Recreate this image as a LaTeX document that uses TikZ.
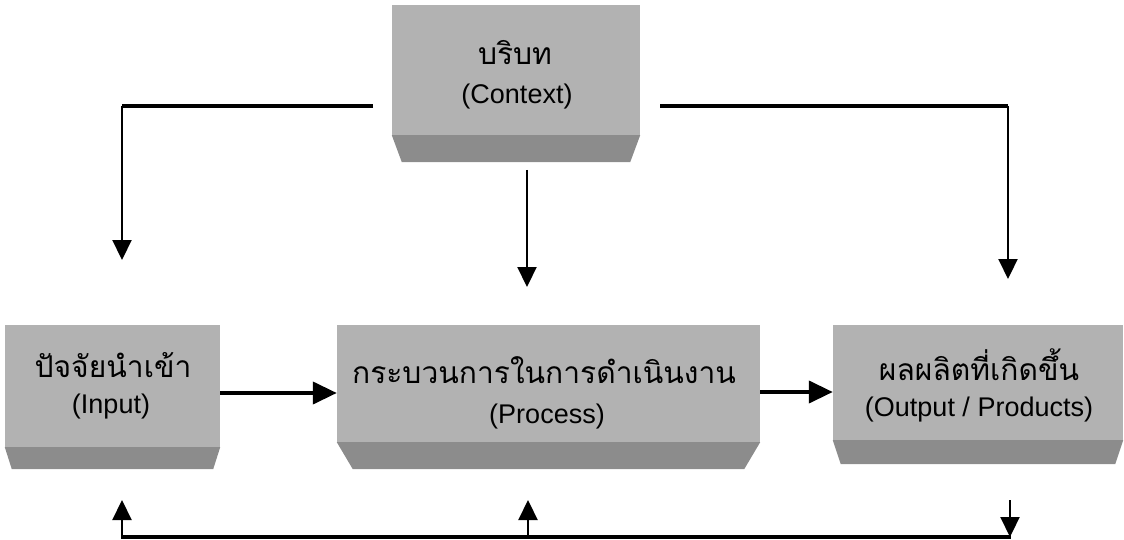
\documentclass[tikz,border=0pt]{standalone}
\usepackage{fontspec}
\newfontfamily\thaifont[Script=Thai]{Loma}
\newfontfamily\latfont{Liberation Sans}
\usetikzlibrary{arrows.meta}
\definecolor{facecol}{gray}{0.70}
\definecolor{stripcol}{gray}{0.55}
\newcommand{\bevelstrip}[3]{% node, inset, height
  \fill[stripcol] (#1.south west) -- (#1.south east) -- ([xshift=-#2pt,yshift=-#3pt]#1.south east) -- ([xshift=#2pt,yshift=-#3pt]#1.south west) -- cycle;}
\tikzset{
  face/.style={fill=facecol, draw=none, inner sep=0pt},
  thtext/.style={font=\thaifont\fontsize{30}{34}\selectfont, inner sep=0pt},
  entext/.style={font=\latfont\fontsize{27}{31}\selectfont, inner sep=0pt},
  mainarrow/.style={line width=4pt, -{Triangle[length=24pt,width=22pt]}},
  thinarrow/.style={line width=2.2pt, -{Triangle[length=20pt,width=19pt]}},
  thickline/.style={line width=3.5pt},
}
\begin{document}
\begin{tikzpicture}[x=1pt,y=-1pt]
\useasboundingbox (0,0) rectangle (1124,540);
% boxes (top faces)
\node[face, minimum width=248pt, minimum height=130pt] (ctx) at (516,70) {};
\node[face, minimum width=215pt, minimum height=122pt] (inp) at (112.5,386) {};
\node[face, minimum width=423pt, minimum height=117pt] (proc) at (548.5,383.5) {};
\node[face, minimum width=290pt, minimum height=115pt] (outp) at (978,382.5) {};
% bevel strips
\bevelstrip{ctx}{10}{27}
\bevelstrip{inp}{7}{22}
\bevelstrip{proc}{16}{27}
\bevelstrip{outp}{8}{24}
% texts
\node[thtext] (ctxTh) at (515,53) {บริบท};
\node[entext] (ctxEn) at (517,97) {(Context)};
\node[thtext] (inpTh) at (113,365) {ปัจจัยนำเข้า};
\node[entext] (inpEn) at (111,407) {(Input)};
\node[thtext] (procTh) at (544,370) {กระบวนการในการดำเนินงาน};
\node[entext] (procEn) at (547,417) {(Process)};
\node[thtext] (outpTh) at (979,365) {ผลผลิตที่เกิดขึ้น};
\node[entext] (outpEn) at (979,410) {(Output / Products)};
% coordinates
\coordinate (cLs) at (373,106);
\coordinate (cLe) at (122,260);
\coordinate (cRs) at (660,106);
\coordinate (cRe) at (1008,279);
\coordinate (cMs) at (527,170);
\coordinate (cMe) at (527,287);
\coordinate (fbL) at (122,537);
\coordinate (fbM) at (528,537);
\coordinate (fbR) at (1010,537);
\coordinate (fbLt) at (122,500);
\coordinate (fbMt) at (528,500);
\coordinate (fbRs) at (1010,500);
% context arrows
\draw[thickline] (cLs) -- (cLe |- cLs);
\draw[thinarrow] (cLe |- cLs) -- (cLe);
\draw[thickline] (cRs) -- (cRe |- cRs);
\draw[thinarrow] (cRe |- cRs) -- (cRe);
\draw[thinarrow] (cMs) -- (cMe);
% main flow
\draw[mainarrow] (inp.east |- 0,393) -- (proc.west |- 0,393);
\draw[mainarrow] (proc.east |- 0,392) -- (outp.west |- 0,392);
% feedback
\draw[thickline] ([xshift=-1pt]fbL) -- ([xshift=1pt]fbR);
\draw[thinarrow] (fbL) -- (fbLt);
\draw[thinarrow] (fbM) -- (fbMt);
\draw[thinarrow] (fbRs) -- (fbR);
\end{tikzpicture}
\end{document}
